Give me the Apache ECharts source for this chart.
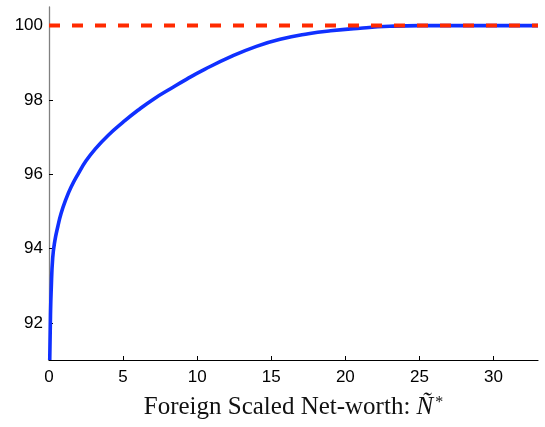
<!DOCTYPE html>
<html>
<head>
<meta charset="utf-8">
<script src="https://cdn.jsdelivr.net/npm/echarts@6/dist/echarts.min.js"></script>
<style>
html,body{margin:0;padding:0;background:#fff;}
#chart{width:545px;height:427px;}
</style>
</head>
<body>
<div id="chart"></div>
<script>
// Data
var netWorth = [0.05, 0.1, 0.15, 0.25, 0.4, 0.6, 0.8, 1.1, 1.5, 2.0, 2.5, 3.1, 4.0, 5.0, 6.0, 7.05, 8.2, 9.3, 10.5, 12.2, 14.0, 15.6, 17.5, 19.0, 21.0, 23.0, 25.0, 33.0];
var valueCurve = [91.0, 92.2, 92.9, 93.75, 94.22, 94.6, 94.92, 95.28, 95.66, 96.03, 96.36, 96.67, 97.05, 97.4, 97.72, 98.02, 98.3, 98.56, 98.82, 99.15, 99.44, 99.63, 99.78, 99.86, 99.93, 99.98, 100.0, 100.0];
var refX = [0, 33];
var refY = [100, 100];
var xTicks = [0, 5, 10, 15, 20, 25, 30];
var yTicks = [92, 94, 96, 98, 100];
var xRange = [0, 33];
var yRange = [91, 100.5];

function pairs(xs, ys) {
  var out = [];
  for (var i = 0; i < xs.length; i++) out.push([xs[i], ys[i]]);
  return out;
}

var chart = echarts.init(document.getElementById('chart'), null, {renderer: 'canvas'});
chart.setOption({
  animation: false,
  backgroundColor: '#ffffff',
  grid: {left: 49, right: 7, top: 7, bottom: 67, containLabel: false},
  xAxis: {
    type: 'value',
    min: xRange[0],
    max: xRange[1],
    interval: 5,
    name: '{rm|Foreign Scaled Net-worth: }{it|Ñ}{sup|*}',
    nameLocation: 'middle',
    nameGap: 35,
    nameTextStyle: {
      rich: {
        rm: {fontFamily: 'Liberation Serif', fontSize: 25, color: '#111'},
        it: {fontFamily: 'Liberation Serif', fontSize: 25, fontStyle: 'italic', color: '#111'},
        sup: {fontFamily: 'Liberation Serif', fontSize: 16, color: '#111', verticalAlign: 'top', padding: [0, 0, 0, 2]}
      }
    },
    axisLine: {show: true, onZero: false, lineStyle: {color: '#000', width: 1.2}},
    axisTick: {show: true, inside: true, length: 4, customValues: xTicks, lineStyle: {color: '#000', width: 1}},
    axisLabel: {customValues: xTicks, margin: 9, fontFamily: 'Liberation Sans', fontSize: 17, color: '#000'},
    splitLine: {show: false}
  },
  yAxis: {
    type: 'value',
    min: yRange[0],
    max: yRange[1],
    axisLine: {show: true, onZero: false, lineStyle: {color: '#808080', width: 1.3}},
    axisTick: {show: true, inside: true, length: 4, customValues: yTicks, lineStyle: {color: '#000', width: 1}},
    axisLabel: {customValues: yTicks, margin: 6, fontFamily: 'Liberation Sans', fontSize: 17, color: '#000'},
    splitLine: {show: false}
  },
  series: [
    {
      type: 'line',
      data: pairs(netWorth, valueCurve),
      smooth: 0.5,
      showSymbol: false,
      symbol: 'none',
      clip: true,
      lineStyle: {color: '#1030ff', width: 3.6},
      z: 2
    },
    {
      type: 'line',
      data: pairs(refX, refY),
      showSymbol: false,
      symbol: 'none',
      clip: true,
      lineStyle: {color: '#ff2a00', width: 4, type: [11, 12]},
      z: 3
    }
  ]
});
</script>
</body>
</html>
